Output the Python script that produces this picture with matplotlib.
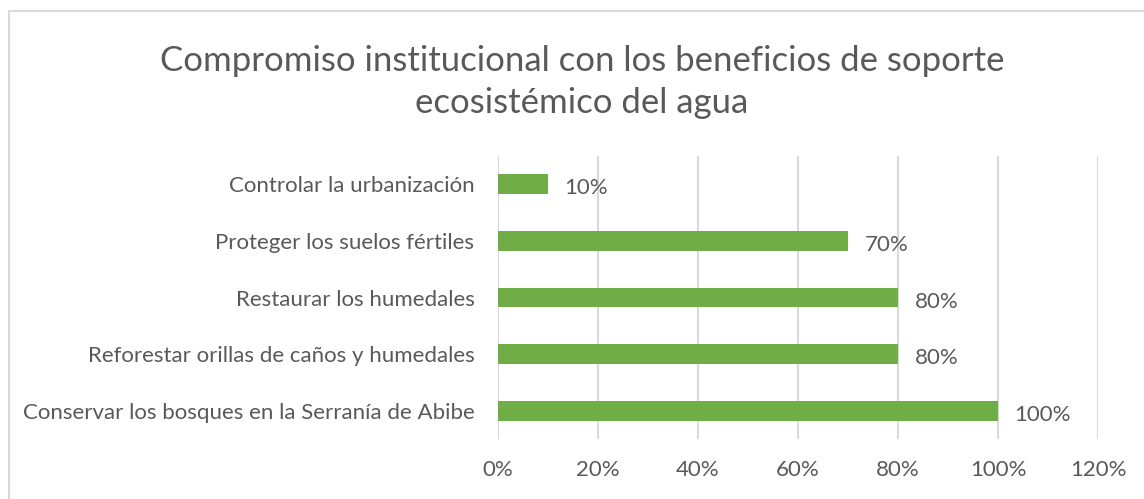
import matplotlib.pyplot as plt
from matplotlib.patches import Rectangle
from matplotlib.ticker import PercentFormatter

# Données
categories = [
    "Conservar los bosques en la Serranía de Abibe",
    "Reforestar orillas de caños y humedales",
    "Restaurar los humedales",
    "Proteger los suelos fértiles",
    "Controlar la urbanización",
]
valeurs = [100, 80, 80, 70, 10]
ticks_x = [0, 20, 40, 60, 80, 100, 120]

gris_texte = "#595959"
vert = "#70AD47"

plt.rcParams['font.family'] = ['Lato', 'DejaVu Sans']

fig = plt.figure(figsize=(11.44, 4.99), dpi=100)
ax = fig.add_axes([498 / 1144, 1 - 439 / 499, 600 / 1144, 283 / 499])

# Cadre autour du graphique
fig.patches.append(Rectangle((9 / 1144, -0.1), 1.2, 1 - 11 / 499 + 0.1,
                             transform=fig.transFigure, fill=False,
                             edgecolor="#D9D9D9", linewidth=1.5))

y = list(range(len(categories)))
barres = ax.barh(y, valeurs, height=0.35, color=vert, zorder=3)

for b, v in zip(barres, valeurs):
    ax.annotate(f"{v}%", (b.get_width(), b.get_y() + b.get_height() / 2),
                xytext=(12, -3), textcoords="offset points",
                va="center", ha="left", fontsize=16, color=gris_texte)

ax.set_xlim(0, 120)
ax.set_ylim(-0.5, len(categories) - 0.5)
ax.set_xticks(ticks_x)
ax.xaxis.set_major_formatter(PercentFormatter(decimals=0))
ax.set_yticks(y)
ax.set_yticklabels(categories)
ax.tick_params(axis="both", length=0, labelsize=16, colors=gris_texte)
ax.tick_params(axis="y", pad=17)
ax.tick_params(axis="x", pad=15)
ax.grid(axis="x", color="#D9D9D9", linewidth=1.5, zorder=0)
for s in ax.spines.values():
    s.set_visible(False)

fig.text(582 / 1144, 1 - 82 / 499,
         "Compromiso institucional con los beneficios de soporte\necosistémico del agua",
         ha="center", va="center", fontsize=25, color=gris_texte,
         linespacing=1.4)

fig.savefig("out.png", dpi=100)
